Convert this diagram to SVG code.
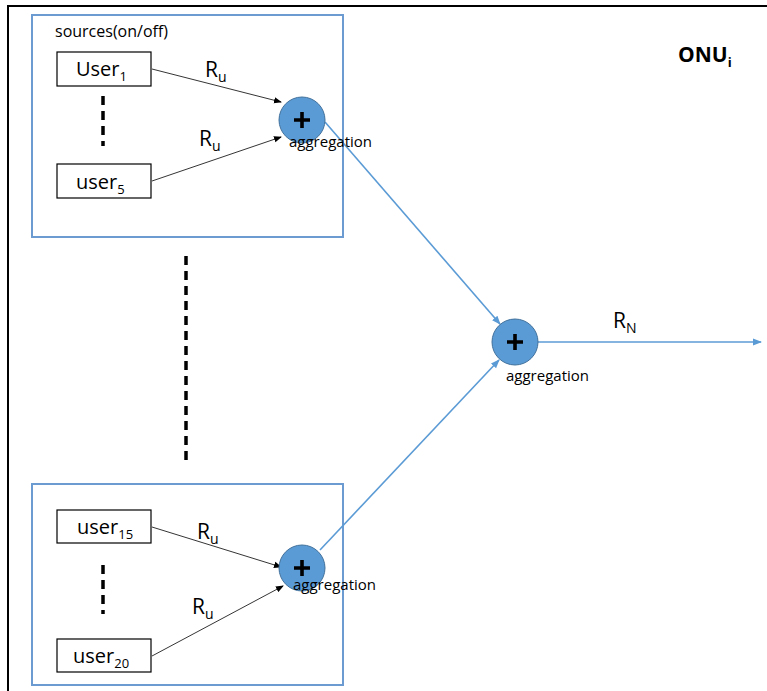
<svg xmlns="http://www.w3.org/2000/svg" width="767" height="691" viewBox="0 0 767 691">
<style>
text{font-family:"Open Sans","Liberation Sans",sans-serif;fill:#000}
.frame{fill:none;stroke:#000;stroke-width:2}
.grp{fill:#fff;stroke:#6c9bd2;stroke-width:2}
.usr{fill:#fff;stroke:#000;stroke-width:1.2}
.ut{font-size:20px}
.agg{fill:#5b9bd5;stroke:#41719c;stroke-width:1}
.plus{stroke:#000;stroke-width:3.6}
.thin{stroke:#000;stroke-width:0.8;fill:none}
.blue{stroke:#5b9bd5;stroke-width:1.6;fill:none}
.dash{stroke:#000;stroke-width:3.5;stroke-dasharray:9,6}
.lbl{font-size:15px}
.ru{font-size:21px}
</style>
<defs>
<marker id="ab" markerWidth="8" markerHeight="8" refX="7" refY="4" orient="auto" markerUnits="userSpaceOnUse"><path d="M0,0.8 L8,4 L0,7.2 Z" fill="#000"/></marker>
<marker id="abl" markerWidth="9" markerHeight="9" refX="8" refY="4.5" orient="auto" markerUnits="userSpaceOnUse"><path d="M0,1 L9,4.5 L0,8 Z" fill="#5b9bd5"/></marker>
</defs>
<rect width="767" height="691" fill="#fff"/>
<g id="frame"><path class="frame" d="M8,691 V6 H767"/></g>
<g id="onu"><text x="678" y="62" font-size="21" font-weight="bold">ONU<tspan font-size="13" dy="5">i</tspan></text></g>

<g id="group1">
<rect class="grp" x="32" y="15" width="311" height="222"/>
<text x="55" y="37" font-size="16">sources(on/off)</text>
</g>
<g id="group2">
<rect class="grp" x="32" y="484" width="311" height="201"/>
</g>

<g id="connectors">
<line class="thin" x1="152" y1="69" x2="281" y2="102" marker-end="url(#ab)"/>
<line class="thin" x1="152" y1="181" x2="281" y2="137" marker-end="url(#ab)"/>
<line class="thin" x1="152" y1="527" x2="281" y2="567" marker-end="url(#ab)"/>
<line class="thin" x1="152" y1="656" x2="283" y2="586" marker-end="url(#ab)"/>
<line class="blue" x1="325" y1="122" x2="500" y2="324" marker-end="url(#abl)"/>
<line class="blue" x1="320" y1="550" x2="499" y2="360" marker-end="url(#abl)"/>
<line class="blue" x1="538" y1="342" x2="761" y2="342" marker-end="url(#abl)"/>
<line class="dash" x1="103" y1="96" x2="103" y2="146"/>
<line class="dash" x1="186" y1="256" x2="186" y2="466"/>
<line class="dash" x1="103" y1="565" x2="103" y2="614"/>
<text class="ru" x="205" y="77">R<tspan font-size="14" dy="5">u</tspan></text>
<text class="ru" x="199" y="146">R<tspan font-size="14" dy="5">u</tspan></text>
<text class="ru" x="197" y="539">R<tspan font-size="14" dy="5">u</tspan></text>
<text class="ru" x="192" y="614">R<tspan font-size="14" dy="5">u</tspan></text>
<text class="ru" x="613" y="328">R<tspan font-size="14" dy="5">N</tspan></text>
</g>

<g id="user1"><rect class="usr" x="57" y="52" width="94" height="34"/><text class="ut" x="76" y="76">User<tspan font-size="13" dy="5">1</tspan></text></g>
<g id="user5"><rect class="usr" x="57" y="164" width="94" height="34"/><text class="ut" x="76" y="189">user<tspan font-size="13" dy="5">5</tspan></text></g>
<g id="user15"><rect class="usr" x="57" y="510" width="94" height="33"/><text class="ut" x="77" y="534">user<tspan font-size="13" dy="5">15</tspan></text></g>
<g id="user20"><rect class="usr" x="57" y="639" width="94" height="33"/><text class="ut" x="73" y="663">user<tspan font-size="13" dy="5">20</tspan></text></g>

<g id="agg1"><circle class="agg" cx="302" cy="120" r="23"/><path class="plus" d="M294,120 H310 M302,112 V128"/><text class="lbl" x="289" y="147">aggregation</text></g>
<g id="agg2"><circle class="agg" cx="302" cy="568" r="23"/><path class="plus" d="M294,568 H310 M302,560 V576"/><text class="lbl" x="293" y="590">aggregation</text></g>
<g id="agg3"><circle class="agg" cx="515" cy="342" r="23"/><path class="plus" d="M507,342 H523 M515,334 V350"/><text class="lbl" x="506" y="381">aggregation</text></g>
</svg>
